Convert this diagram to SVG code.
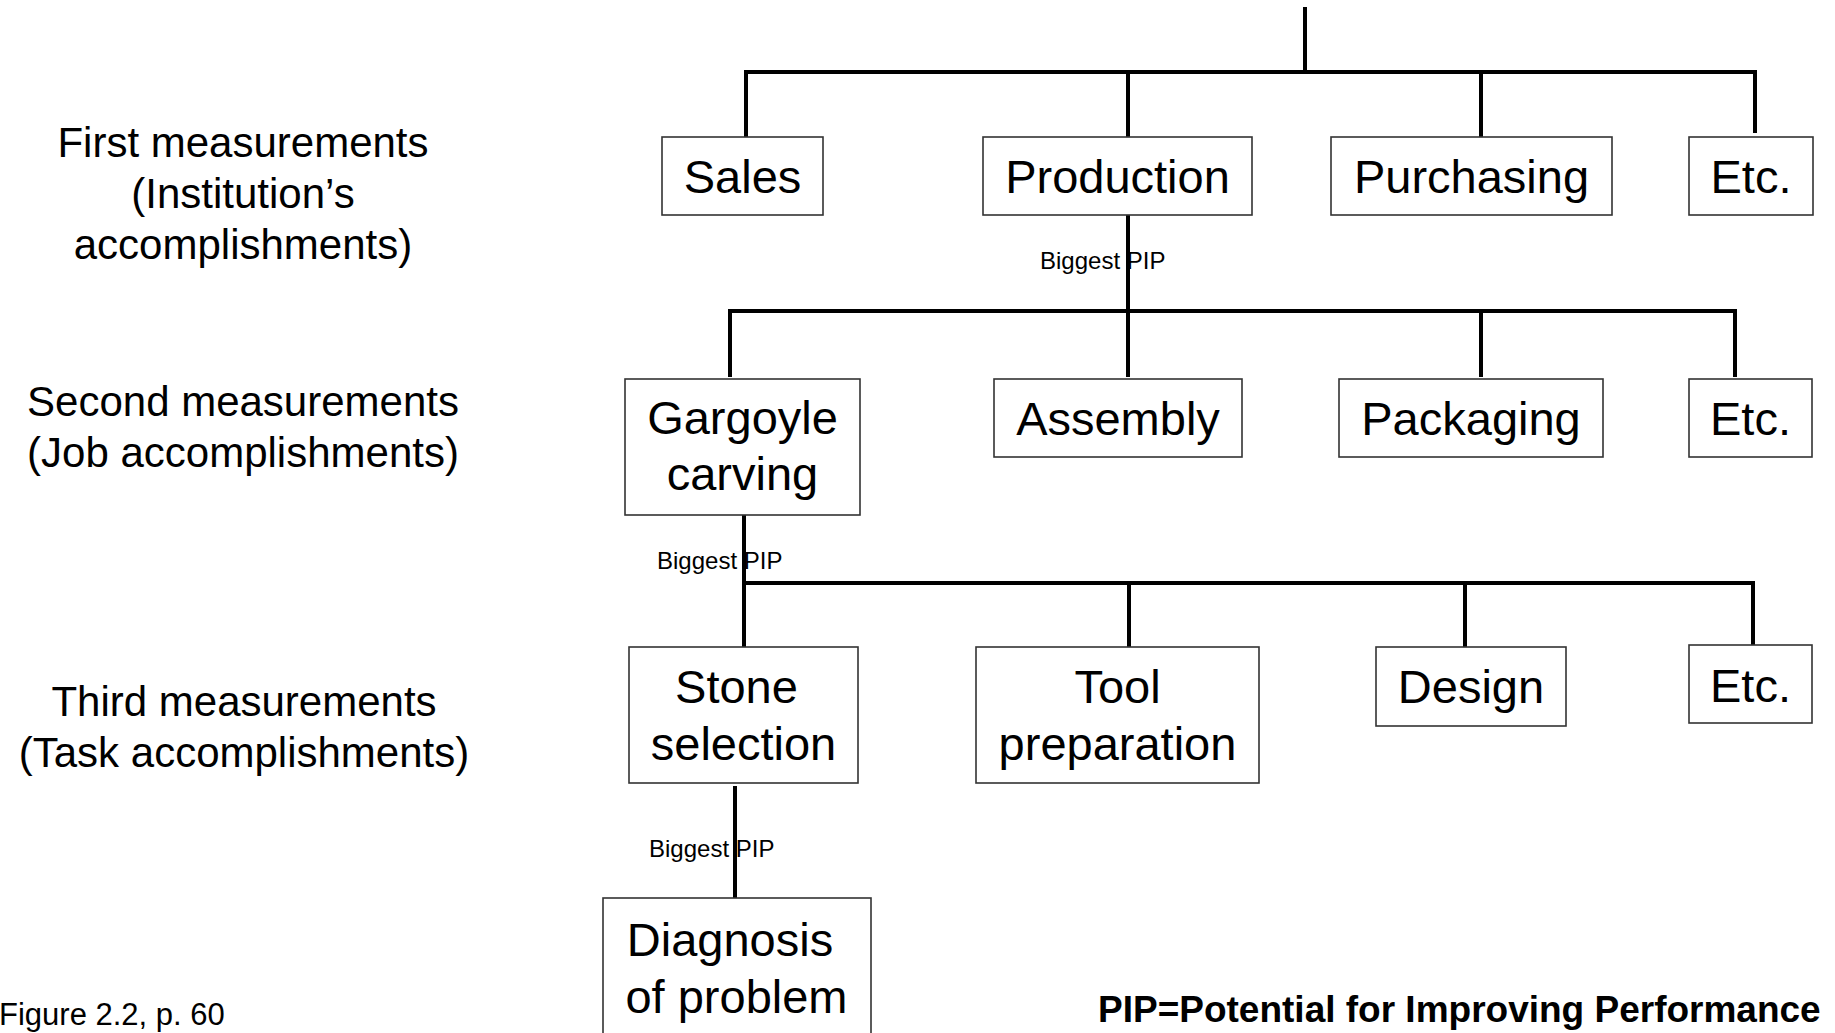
<svg xmlns="http://www.w3.org/2000/svg" width="1835" height="1033" viewBox="0 0 1835 1033">
  <style>
    .box { fill: #ffffff; stroke: #333333; stroke-width: 1.6; }
    .wire { fill: none; stroke: #000000; stroke-width: 4; stroke-linejoin: miter; }
    .node { font-family: "Liberation Sans", Arial, sans-serif; font-size: 47px; fill: #000000; text-anchor: middle; }
    .level { font-family: "Liberation Sans", Arial, sans-serif; font-size: 42px; fill: #000000; text-anchor: middle; }
    .pip { font-family: "Liberation Sans", Arial, sans-serif; font-size: 24px; fill: #000000; }
    .note { font-family: "Liberation Sans", Arial, sans-serif; font-size: 31px; fill: #000000; }
    .legend { font-family: "Liberation Sans", Arial, sans-serif; font-size: 37px; font-weight: bold; fill: #000000; }
  </style>
  <rect width="1835" height="1033" fill="#ffffff"/>

  <!-- level captions -->
  <g id="level-first">
    <text class="level" x="243" y="157">First measurements</text>
    <text class="level" x="243" y="208">(Institution’s</text>
    <text class="level" x="243" y="259">accomplishments)</text>
  </g>
  <g id="level-second">
    <text class="level" x="243" y="416">Second measurements</text>
    <text class="level" x="243" y="467">(Job accomplishments)</text>
  </g>
  <g id="level-third">
    <text class="level" x="244" y="716">Third measurements</text>
    <text class="level" x="244" y="767">(Task accomplishments)</text>
  </g>

  <!-- connectors -->
  <g id="connectors">
    <path class="wire" d="M1305,7 V72"/>
    <path class="wire" d="M746,137 V72 H1755 V133"/>
    <path class="wire" d="M1128,72 V137"/>
    <path class="wire" d="M1481,72 V137"/>

    <path class="wire" d="M1128,215 V377"/>
    <path class="wire" d="M730,377 V311 H1735 V377"/>
    <path class="wire" d="M1481,311 V377"/>

    <path class="wire" d="M744,515 V647"/>
    <path class="wire" d="M744,583 H1753 V647"/>
    <path class="wire" d="M1129,583 V647"/>
    <path class="wire" d="M1465,583 V647"/>

    <path class="wire" d="M735,786 V898"/>

    <text class="pip" x="1040" y="269">Biggest PIP</text>
    <text class="pip" x="657" y="569">Biggest PIP</text>
    <text class="pip" x="649" y="857">Biggest PIP</text>
  </g>

  <!-- first level units -->
  <g id="sales">
    <rect class="box" x="662" y="137" width="161" height="78"/>
    <text class="node" x="742.5" y="193">Sales</text>
  </g>
  <g id="production">
    <rect class="box" x="983" y="137" width="269" height="78"/>
    <text class="node" x="1117.5" y="193">Production</text>
  </g>
  <g id="purchasing">
    <rect class="box" x="1331" y="137" width="281" height="78"/>
    <text class="node" x="1471.5" y="193">Purchasing</text>
  </g>
  <g id="etc-1">
    <rect class="box" x="1689" y="137" width="124" height="78"/>
    <text class="node" x="1751" y="193">Etc.</text>
  </g>

  <!-- second level jobs -->
  <g id="gargoyle-carving">
    <rect class="box" x="625" y="379" width="235" height="136"/>
    <text class="node" x="742.5" y="434">Gargoyle</text>
    <text class="node" x="742.5" y="490">carving</text>
  </g>
  <g id="assembly">
    <rect class="box" x="994" y="379" width="248" height="78"/>
    <text class="node" x="1118" y="435">Assembly</text>
  </g>
  <g id="packaging">
    <rect class="box" x="1339" y="379" width="264" height="78"/>
    <text class="node" x="1471" y="435">Packaging</text>
  </g>
  <g id="etc-2">
    <rect class="box" x="1689" y="379" width="123" height="78"/>
    <text class="node" x="1750.5" y="435">Etc.</text>
  </g>

  <!-- third level tasks -->
  <g id="stone-selection">
    <rect class="box" x="629" y="647" width="229" height="136"/>
    <text class="node" x="736.5" y="703">Stone</text>
    <text class="node" x="743.5" y="760">selection</text>
  </g>
  <g id="tool-preparation">
    <rect class="box" x="976" y="647" width="283" height="136"/>
    <text class="node" x="1117.5" y="703">Tool</text>
    <text class="node" x="1117.5" y="760">preparation</text>
  </g>
  <g id="design">
    <rect class="box" x="1376" y="647" width="190" height="79"/>
    <text class="node" x="1471" y="703">Design</text>
  </g>
  <g id="etc-3">
    <rect class="box" x="1689" y="645" width="123" height="78"/>
    <text class="node" x="1750.5" y="702">Etc.</text>
  </g>

  <!-- fourth level -->
  <g id="diagnosis">
    <rect class="box" x="603" y="898" width="268" height="150"/>
    <text class="node" x="730" y="956">Diagnosis</text>
    <text class="node" x="736.5" y="1013">of problem</text>
  </g>

  <g id="footer">
    <text class="note" x="-1" y="1025">Figure 2.2, p. 60</text>
    <text class="legend" x="1098" y="1022">PIP=Potential for Improving Performance</text>
  </g>
</svg>
